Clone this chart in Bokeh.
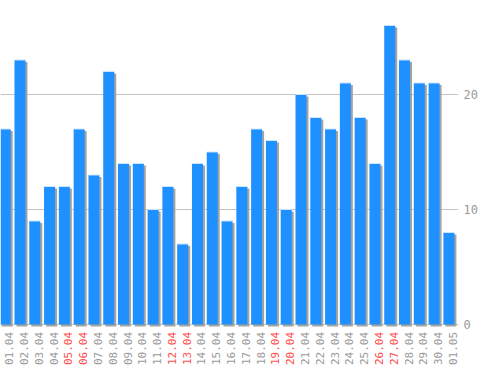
import numpy as np
from bokeh.plotting import figure
from bokeh.models import ColumnDataSource, Range1d, LinearAxis, FixedTicker, Grid
from bokeh.transform import dodge
from bokeh.core.properties import value
from bokeh.embed import file_html
from bokeh.resources import INLINE

days = ["01.04", "02.04", "03.04", "04.04", "05.04", "06.04", "07.04", "08.04",
        "09.04", "10.04", "11.04", "12.04", "13.04", "14.04", "15.04", "16.04",
        "17.04", "18.04", "19.04", "20.04", "21.04", "22.04", "23.04", "24.04",
        "25.04", "26.04", "27.04", "28.04", "29.04", "30.04", "01.05"]
counts = [17, 23, 9, 12, 12, 17, 13, 22, 14, 14, 10, 12, 7, 14, 15, 9,
          12, 17, 16, 10, 20, 18, 17, 21, 18, 14, 26, 23, 21, 21, 8]
weekend = ["05.04", "06.04", "12.04", "13.04", "19.04", "20.04", "26.04", "27.04"]
y_ticks = [0, 10, 20]

idx = list(range(len(days)))
label_colors = ["#ff4d4d" if d in weekend else "#9a9a9a" for d in days]
src = ColumnDataSource(dict(x=idx, v=counts, day=days, c=label_colors, zero=[0] * len(days)))

p = figure(width=498, height=370, output_backend="svg", toolbar_location=None,
           x_range=Range1d(-0.318, 30.65), y_range=Range1d(-4.0, 28.17),
           min_border_left=0, min_border_top=0, min_border_right=40, min_border_bottom=0,
           x_axis_location=None, y_axis_location=None)
p.outline_line_color = None
p.background_fill_color = "#ffffff"
p.border_fill_color = "#ffffff"
p.grid.visible = False

grid = Grid(dimension=1, ticker=FixedTicker(ticks=y_ticks), grid_line_color="#c4c4c4", grid_line_width=1)
p.add_layout(grid)

ax = LinearAxis(ticker=FixedTicker(ticks=y_ticks), axis_line_color=None,
                major_tick_line_color=None, minor_tick_line_color=None,
                major_tick_in=0, major_tick_out=0, major_label_standoff=5,
                major_label_text_font="DejaVu Sans Mono", major_label_text_font_size="12px",
                major_label_text_color="#9a9a9a")
p.add_layout(ax, "right")

bw = 0.744
# shadow
p.vbar(x=dodge("x", 0.135, range=p.x_range), top=dodge("v", -0.174, range=p.y_range),
       bottom=dodge("zero", -0.174, range=p.y_range), width=bw,
       fill_color="#a3a3a3", line_color=None, source=src)
# bars
p.vbar(x="x", top="v", bottom="zero", width=bw, fill_color="#1e90ff", line_color=None, source=src)
# light top edge
p.segment(x0=dodge("x", -bw / 2, range=p.x_range), x1=dodge("x", bw / 2, range=p.x_range),
          y0="v", y1="v", line_color="#cfe6ff", line_width=1, source=src)

# date labels under the bars
p.text(x=dodge("x", 0.27, range=p.x_range), y=dodge("zero", -0.65, range=p.y_range),
       text="day", angle=np.pi / 2, text_align="right", text_baseline="middle",
       text_color="c", text_font=value("DejaVu Sans Mono"), text_font_size="11px", source=src)

open("out.html", "w").write(file_html(p, INLINE))
